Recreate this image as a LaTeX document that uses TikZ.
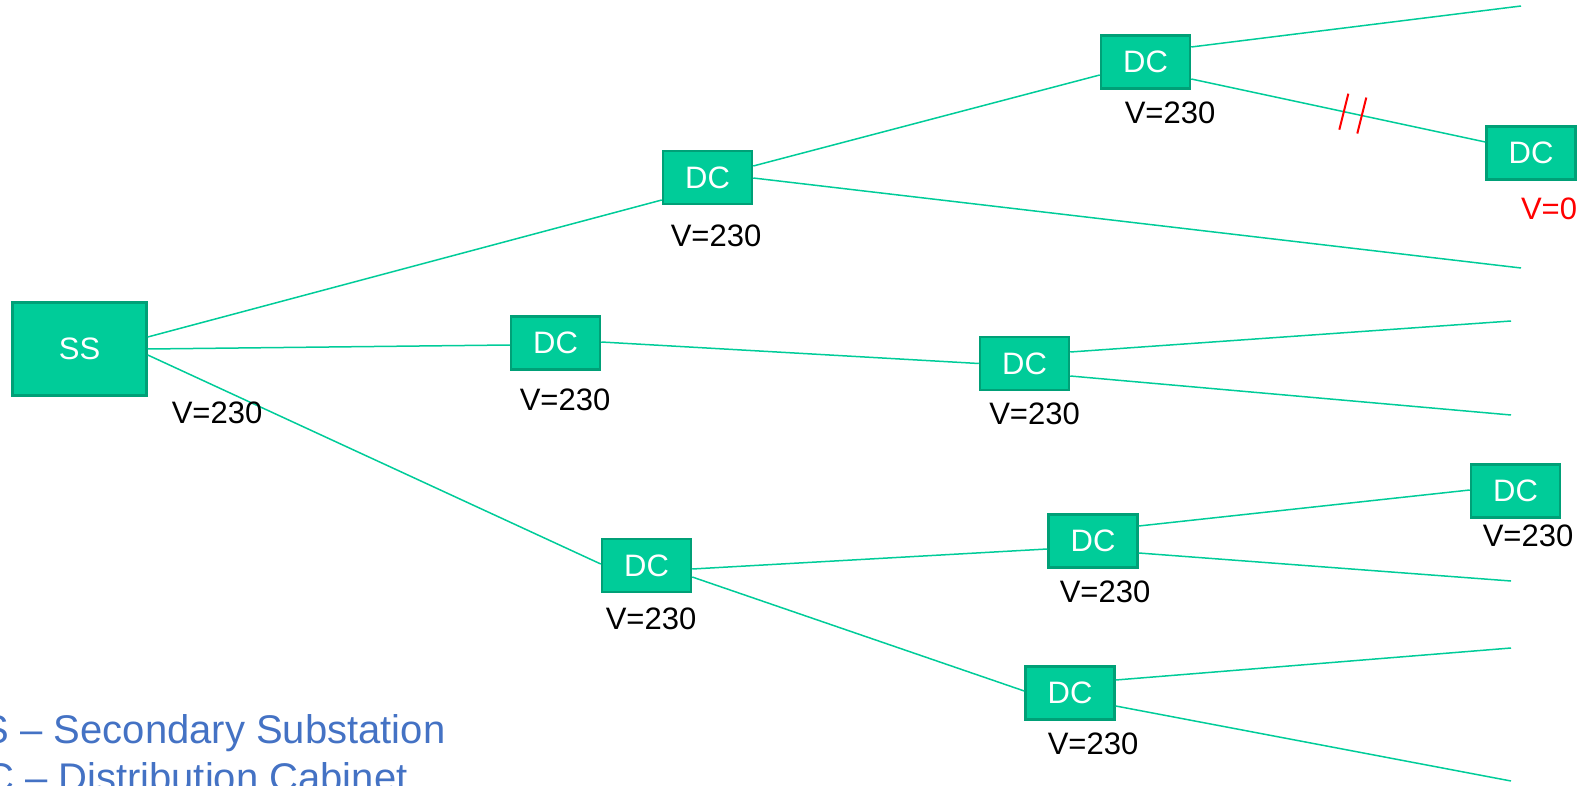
\documentclass[tikz,border=0pt]{standalone}
\usepackage{fontspec}
\setmainfont{Liberation Sans}
\usetikzlibrary{calc}
\definecolor{boxfill}{HTML}{00CC99}
\definecolor{boxline}{HTML}{00A077}
\definecolor{wirecol}{HTML}{00CC99}
\definecolor{legendcol}{HTML}{4472C4}
\definecolor{alarmred}{HTML}{FF0000}
\begin{document}
\begin{tikzpicture}[x=1pt,y=-1pt,
  cab/.style={rectangle, fill=boxfill, draw=boxline, line width=2.5pt,
    minimum width=89pt, minimum height=53pt, inner sep=0pt, text=white,
    font=\fontsize{31}{37}\selectfont},
  lbl/.style={inner sep=0pt, font=\fontsize{31}{37}\selectfont},
  wire/.style={draw=wirecol, line width=1.5pt},
  brk/.style={draw=alarmred, line width=2pt},
  legendtxt/.style={inner sep=0pt, anchor=base west, text=legendcol,
    font=\fontsize{40}{48}\selectfont}]
\useasboundingbox (0,0) rectangle (1587,786);
\clip (0,0) rectangle (1587,786);

% nodes
\node[cab, minimum width=134pt, minimum height=93pt] (SS) at (79.5,349) {SS};
\node[cab] (A) at (707.5,177.5) {DC};
\node[cab] (B) at (555.5,343) {DC};
\node[cab] (C) at (646.5,565.5) {DC};
\node[cab] (D) at (1145.5,62) {DC};
\node[cab] (E) at (1024.5,363.5) {DC};
\node[cab] (F) at (1093,541) {DC};
\node[cab] (G) at (1070,693) {DC};
\node[cab] (H) at (1531,153) {DC};
\node[cab] (I) at (1515.5,491) {DC};

% free ends
\coordinate (e0) at (1521,6);
\coordinate (e1) at (1521,268);
\coordinate (e2) at (1511,321);
\coordinate (e3) at (1511,415);
\coordinate (e5) at (1511,581);
\coordinate (e6) at (1511,648);
\coordinate (e7) at (1511,781);

% connectors
\draw[wire] ($(SS.east)+(0,-12)$) -- ($(A.west)+(0,22.5)$);
\draw[wire] (SS.east) -- ($(B.west)+(0,2)$);
\draw[wire] ($(SS.east)+(0,6)$) -- ($(C.west)+(0,-1.5)$);
\draw[wire] ($(A.east)+(0,-11.5)$) -- ($(D.west)+(0,13)$);
\draw[wire] ($(A.east)+(0,0.5)$) -- (e1);
\draw[wire] ($(D.east)+(0,-15)$) -- (e0);
\draw[wire] ($(D.east)+(0,17)$) -- coordinate[pos=0.519] (brk1) coordinate[pos=0.58] (brk2) ($(H.west)+(0,-11)$);
\draw[wire] ($(B.east)+(0,-1)$) -- ($(E.west)+(0,0)$);
\draw[wire] ($(E.east)+(0,-11.5)$) -- (e2);
\draw[wire] ($(E.east)+(0,12.5)$) -- (e3);
\draw[wire] ($(C.east)+(0,3.5)$) -- ($(F.west)+(0,8)$);
\draw[wire] ($(C.east)+(0,11.5)$) -- ($(G.west)+(0,-2)$);
\draw[wire] ($(F.east)+(0,-15)$) -- ($(I.west)+(0,-1)$);
\draw[wire] ($(F.east)+(0,12)$) -- (e5);
\draw[wire] ($(G.east)+(0,-13)$) -- (e6);
\draw[wire] ($(G.east)+(0,13)$) -- (e7);

% break marks
\draw[brk] ($(brk1)+(4.5,-18)$) -- ($(brk1)+(-4.5,18)$);
\draw[brk] ($(brk2)+(4.5,-18)$) -- ($(brk2)+(-4.5,18)$);

% voltage labels
\node[lbl] (vSS) at (217,413) {V=230};
\node[lbl] (vA) at (716,236) {V=230};
\node[lbl] (vB) at (565,400) {V=230};
\node[lbl] (vC) at (651,619) {V=230};
\node[lbl] (vD) at (1170,113) {V=230};
\node[lbl] (vE) at (1034.5,414) {V=230};
\node[lbl] (vF) at (1105,592) {V=230};
\node[lbl] (vG) at (1093,744) {V=230};
\node[lbl, text=alarmred] (vH) at (1549,209) {V=0};
\node[lbl] (vI) at (1528,536) {V=230};

% legend
\node[legendtxt] (leg1) at (-44,743) {SS – Secondary Substation};
\node[legendtxt] (leg2) at (-44,791) {DC – Distribution Cabinet};
\end{tikzpicture}
\end{document}
